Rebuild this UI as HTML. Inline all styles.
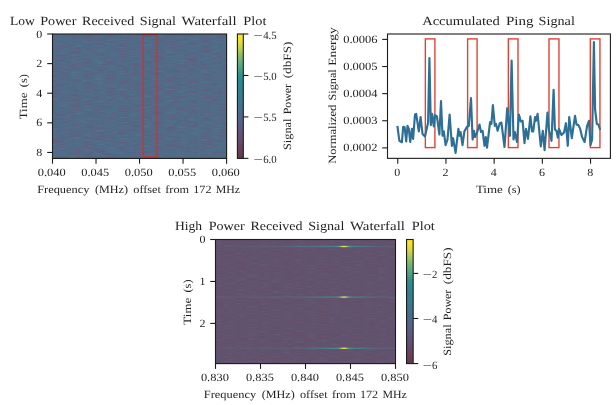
<!DOCTYPE html>
<html lang="en"><head><meta charset="utf-8"><title>Ping waterfall plots</title>
<style>html,body{margin:0;padding:0;background:#fff;}svg{display:block;}</style>
</head><body>
<svg width="616" height="405" viewBox="0 0 616 405" font-family='"Liberation Serif", "DejaVu Serif", serif' text-rendering="geometricPrecision">
<defs>
<linearGradient id="cb" x1="0" y1="0" x2="0" y2="1">
<stop offset="0" stop-color="#f9e526"/>
<stop offset="0.04" stop-color="#f3e12e"/>
<stop offset="0.085" stop-color="#d8d840"/>
<stop offset="0.125" stop-color="#b3cd56"/>
<stop offset="0.175" stop-color="#86bd6a"/>
<stop offset="0.22" stop-color="#6ab078"/>
<stop offset="0.265" stop-color="#55a581"/>
<stop offset="0.3" stop-color="#409a87"/>
<stop offset="0.33" stop-color="#30908a"/>
<stop offset="0.37" stop-color="#2a8a90"/>
<stop offset="0.43" stop-color="#2f8290"/>
<stop offset="0.5" stop-color="#357c90"/>
<stop offset="0.57" stop-color="#40738e"/>
<stop offset="0.63" stop-color="#4a6a8c"/>
<stop offset="0.7" stop-color="#54628a"/>
<stop offset="0.76" stop-color="#5e5880"/>
<stop offset="0.85" stop-color="#674c6e"/>
<stop offset="0.93" stop-color="#6a4059"/>
<stop offset="1" stop-color="#64384e"/>
</linearGradient>
<filter id="n1" x="0" y="0" width="100%" height="100%" color-interpolation-filters="sRGB"><feTurbulence type="fractalNoise" baseFrequency="0.06 1.0" numOctaves="3" seed="3" result="t"/><feTurbulence type="fractalNoise" baseFrequency="0.085 1.0" numOctaves="2" seed="13" result="u"/><feColorMatrix in="t" type="matrix" values="0 0 0 0 0.306  0 0 0 0 0.424  0 0 0 0 0.533  0 0 0 0 1" result="base"/><feColorMatrix in="t" type="matrix" values="0 0 0 0 0.431  0 0 0 0 0.322  0 0 0 0 0.455  1.7 0 0 0 -0.84" result="o1"/><feColorMatrix in="u" type="matrix" values="0 0 0 0 0.431  0 0 0 0 0.322  0 0 0 0 0.455  0 0 1.7 0 -0.84" result="o3"/><feColorMatrix in="u" type="matrix" values="0 0 0 0 0.361  0 0 0 0 0.498  0 0 0 0 0.612  0 1.2 0 0 -0.56" result="o2"/><feMerge><feMergeNode in="base"/><feMergeNode in="o2"/><feMergeNode in="o1"/><feMergeNode in="o3"/></feMerge></filter>
<filter id="n3" x="0" y="0" width="100%" height="100%" color-interpolation-filters="sRGB"><feTurbulence type="fractalNoise" baseFrequency="0.06 1.0" numOctaves="3" seed="7" result="t"/><feTurbulence type="fractalNoise" baseFrequency="0.085 1.0" numOctaves="2" seed="17" result="u"/><feColorMatrix in="t" type="matrix" values="0 0 0 0 0.376  0 0 0 0 0.318  0 0 0 0 0.424  0 0 0 0 1" result="base"/><feColorMatrix in="t" type="matrix" values="0 0 0 0 0.424  0 0 0 0 0.290  0 0 0 0 0.384  1.6 0 0 0 -0.88" result="o1"/><feColorMatrix in="u" type="matrix" values="0 0 0 0 0.424  0 0 0 0 0.290  0 0 0 0 0.384  0 0 1.6 0 -0.88" result="o3"/><feColorMatrix in="u" type="matrix" values="0 0 0 0 0.431  0 0 0 0 0.392  0 0 0 0 0.525  0 1.2 0 0 -0.54" result="o2"/><feMerge><feMergeNode in="base"/><feMergeNode in="o2"/><feMergeNode in="o1"/><feMergeNode in="o3"/></feMerge></filter>
<linearGradient id="ping1" x1="0" y1="0" x2="1" y2="0">
<stop offset="0" stop-color="#5a6f8a" stop-opacity="0.08"/>
<stop offset="0.35" stop-color="#52768b" stop-opacity="0.4"/>
<stop offset="0.5" stop-color="#4b7c8d" stop-opacity="0.8"/>
<stop offset="0.61" stop-color="#47818e" stop-opacity="0.9"/>
<stop offset="0.67" stop-color="#45838f" stop-opacity="1"/>
<stop offset="0.69" stop-color="#5fa085" stop-opacity="1"/>
<stop offset="0.701" stop-color="#c4d268" stop-opacity="1"/>
<stop offset="0.714" stop-color="#ece37c" stop-opacity="1"/>
<stop offset="0.727" stop-color="#c4d268" stop-opacity="1"/>
<stop offset="0.738" stop-color="#5fa085" stop-opacity="1"/>
<stop offset="0.76" stop-color="#45838f" stop-opacity="1"/>
<stop offset="0.83" stop-color="#4a7c8c" stop-opacity="0.8"/>
<stop offset="0.9" stop-color="#55728b" stop-opacity="0.55"/>
<stop offset="1" stop-color="#5a6f8a" stop-opacity="0.4"/>
</linearGradient>
<linearGradient id="ping2" x1="0" y1="0" x2="1" y2="0">
<stop offset="0" stop-color="#5a6f8a" stop-opacity="0.3"/>
<stop offset="0.35" stop-color="#52768b" stop-opacity="0.4"/>
<stop offset="0.5" stop-color="#4b7c8d" stop-opacity="0.55"/>
<stop offset="0.61" stop-color="#47818e" stop-opacity="0.9"/>
<stop offset="0.67" stop-color="#45838f" stop-opacity="1"/>
<stop offset="0.69" stop-color="#5fa085" stop-opacity="1"/>
<stop offset="0.701" stop-color="#c4d268" stop-opacity="1"/>
<stop offset="0.714" stop-color="#ece37c" stop-opacity="1"/>
<stop offset="0.727" stop-color="#c4d268" stop-opacity="1"/>
<stop offset="0.738" stop-color="#5fa085" stop-opacity="1"/>
<stop offset="0.76" stop-color="#45838f" stop-opacity="1"/>
<stop offset="0.83" stop-color="#4a7c8c" stop-opacity="0.8"/>
<stop offset="0.9" stop-color="#55728b" stop-opacity="0.55"/>
<stop offset="1" stop-color="#5a6f8a" stop-opacity="0.4"/>
</linearGradient>
<linearGradient id="ping3" x1="0" y1="0" x2="1" y2="0">
<stop offset="0" stop-color="#5a6f8a" stop-opacity="0.25"/>
<stop offset="0.35" stop-color="#52768b" stop-opacity="0.3"/>
<stop offset="0.5" stop-color="#4b7c8d" stop-opacity="0.45"/>
<stop offset="0.61" stop-color="#47818e" stop-opacity="0.9"/>
<stop offset="0.67" stop-color="#45838f" stop-opacity="1"/>
<stop offset="0.69" stop-color="#5fa085" stop-opacity="1"/>
<stop offset="0.701" stop-color="#c4d268" stop-opacity="1"/>
<stop offset="0.714" stop-color="#ece37c" stop-opacity="1"/>
<stop offset="0.727" stop-color="#c4d268" stop-opacity="1"/>
<stop offset="0.738" stop-color="#5fa085" stop-opacity="1"/>
<stop offset="0.76" stop-color="#45838f" stop-opacity="1"/>
<stop offset="0.83" stop-color="#4a7c8c" stop-opacity="0.8"/>
<stop offset="0.9" stop-color="#55728b" stop-opacity="0.55"/>
<stop offset="1" stop-color="#5a6f8a" stop-opacity="0.4"/>
</linearGradient>
<filter id="bl" x="-2%" y="-200%" width="104%" height="500%"><feGaussianBlur stdDeviation="0.6 0.45"/></filter>
</defs>
<rect width="616" height="405" fill="#fff"/>
<rect x="52.50" y="34.00" width="174.10" height="124.40" fill="#4f6a8c" filter="url(#n1)"/>
<rect x="143.10" y="34.70" width="14.00" height="122.20" fill="none" stroke="#c4363c" stroke-width="1.5"/>
<rect x="144.20" y="154.20" width="11.80" height="1.50" fill="#3f8a8c" opacity="0.35"/>
<rect x="52.50" y="34.00" width="174.10" height="124.40" fill="none" stroke="#1c1c1c" stroke-width="1.1"/>
<line x1="47.20" y1="34.00" x2="52.50" y2="34.00" stroke="#1c1c1c" stroke-width="1.1"/>
<text x="42.20" y="37.50" font-size="11.1" text-anchor="end" textLength="6.00" lengthAdjust="spacingAndGlyphs" fill="#1f1f1f">0</text>
<line x1="47.20" y1="63.61" x2="52.50" y2="63.61" stroke="#1c1c1c" stroke-width="1.1"/>
<text x="42.20" y="67.11" font-size="11.1" text-anchor="end" textLength="6.00" lengthAdjust="spacingAndGlyphs" fill="#1f1f1f">2</text>
<line x1="47.20" y1="93.22" x2="52.50" y2="93.22" stroke="#1c1c1c" stroke-width="1.1"/>
<text x="42.20" y="96.72" font-size="11.1" text-anchor="end" textLength="6.00" lengthAdjust="spacingAndGlyphs" fill="#1f1f1f">4</text>
<line x1="47.20" y1="122.83" x2="52.50" y2="122.83" stroke="#1c1c1c" stroke-width="1.1"/>
<text x="42.20" y="126.33" font-size="11.1" text-anchor="end" textLength="6.00" lengthAdjust="spacingAndGlyphs" fill="#1f1f1f">6</text>
<line x1="47.20" y1="152.44" x2="52.50" y2="152.44" stroke="#1c1c1c" stroke-width="1.1"/>
<text x="42.20" y="155.94" font-size="11.1" text-anchor="end" textLength="6.00" lengthAdjust="spacingAndGlyphs" fill="#1f1f1f">8</text>
<line x1="52.50" y1="158.40" x2="52.50" y2="163.70" stroke="#1c1c1c" stroke-width="1.1"/>
<text x="51.70" y="175.50" font-size="11.1" text-anchor="middle" textLength="28.00" lengthAdjust="spacingAndGlyphs" fill="#1f1f1f">0.040</text>
<line x1="96.02" y1="158.40" x2="96.02" y2="163.70" stroke="#1c1c1c" stroke-width="1.1"/>
<text x="95.22" y="175.50" font-size="11.1" text-anchor="middle" textLength="28.00" lengthAdjust="spacingAndGlyphs" fill="#1f1f1f">0.045</text>
<line x1="139.54" y1="158.40" x2="139.54" y2="163.70" stroke="#1c1c1c" stroke-width="1.1"/>
<text x="138.74" y="175.50" font-size="11.1" text-anchor="middle" textLength="28.00" lengthAdjust="spacingAndGlyphs" fill="#1f1f1f">0.050</text>
<line x1="183.06" y1="158.40" x2="183.06" y2="163.70" stroke="#1c1c1c" stroke-width="1.1"/>
<text x="182.26" y="175.50" font-size="11.1" text-anchor="middle" textLength="28.00" lengthAdjust="spacingAndGlyphs" fill="#1f1f1f">0.055</text>
<line x1="226.58" y1="158.40" x2="226.58" y2="163.70" stroke="#1c1c1c" stroke-width="1.1"/>
<text x="225.78" y="175.50" font-size="11.1" text-anchor="middle" textLength="28.00" lengthAdjust="spacingAndGlyphs" fill="#1f1f1f">0.060</text>
<text x="9.95" y="25.00" font-size="12.5" textLength="24.90" lengthAdjust="spacingAndGlyphs" fill="#1f1f1f">Low</text>
<text x="40.25" y="25.00" font-size="12.5" textLength="36.10" lengthAdjust="spacingAndGlyphs" fill="#1f1f1f">Power</text>
<text x="82.05" y="25.00" font-size="12.5" textLength="52.10" lengthAdjust="spacingAndGlyphs" fill="#1f1f1f">Received</text>
<text x="139.75" y="25.00" font-size="12.5" textLength="36.20" lengthAdjust="spacingAndGlyphs" fill="#1f1f1f">Signal</text>
<text x="181.55" y="25.00" font-size="12.5" textLength="55.00" lengthAdjust="spacingAndGlyphs" fill="#1f1f1f">Waterfall</text>
<text x="243.35" y="25.00" font-size="12.5" textLength="23.10" lengthAdjust="spacingAndGlyphs" fill="#1f1f1f">Plot</text>
<text x="37.15" y="192.50" font-size="11.1" textLength="52.30" lengthAdjust="spacingAndGlyphs" fill="#1f1f1f">Frequency</text>
<text x="95.05" y="192.50" font-size="11.1" textLength="33.00" lengthAdjust="spacingAndGlyphs" fill="#1f1f1f">(MHz)</text>
<text x="133.25" y="192.50" font-size="11.1" textLength="27.70" lengthAdjust="spacingAndGlyphs" fill="#1f1f1f">offset</text>
<text x="165.25" y="192.50" font-size="11.1" textLength="23.90" lengthAdjust="spacingAndGlyphs" fill="#1f1f1f">from</text>
<text x="193.25" y="192.50" font-size="11.1" textLength="18.20" lengthAdjust="spacingAndGlyphs" fill="#1f1f1f">172</text>
<text x="215.75" y="192.50" font-size="11.1" textLength="24.35" lengthAdjust="spacingAndGlyphs" fill="#1f1f1f">MHz</text>
<text x="0" y="0" font-size="11.1" textLength="26.95" lengthAdjust="spacingAndGlyphs" fill="#1f1f1f" transform="translate(27.10 119.35) rotate(-90)">Time</text>
<text x="0" y="0" font-size="11.1" textLength="13.20" lengthAdjust="spacingAndGlyphs" fill="#1f1f1f" transform="translate(27.10 87.25) rotate(-90)">(s)</text>
<rect x="237.40" y="34.00" width="5.90" height="124.40" fill="url(#cb)" stroke="#1c1c1c" stroke-width="1.1"/>
<line x1="243.30" y1="34.00" x2="248.40" y2="34.00" stroke="#1c1c1c" stroke-width="1.1"/>
<text x="253.55" y="38.50" font-size="11.1" textLength="9.30" lengthAdjust="spacingAndGlyphs" fill="#1f1f1f">−</text>
<text x="263.15" y="38.50" font-size="11.1" textLength="13.50" lengthAdjust="spacingAndGlyphs" fill="#1f1f1f">4.5</text>
<line x1="243.30" y1="75.45" x2="248.40" y2="75.45" stroke="#1c1c1c" stroke-width="1.1"/>
<text x="253.55" y="79.95" font-size="11.1" textLength="9.30" lengthAdjust="spacingAndGlyphs" fill="#1f1f1f">−</text>
<text x="263.15" y="79.95" font-size="11.1" textLength="13.50" lengthAdjust="spacingAndGlyphs" fill="#1f1f1f">5.0</text>
<line x1="243.30" y1="116.90" x2="248.40" y2="116.90" stroke="#1c1c1c" stroke-width="1.1"/>
<text x="253.55" y="121.40" font-size="11.1" textLength="9.30" lengthAdjust="spacingAndGlyphs" fill="#1f1f1f">−</text>
<text x="263.15" y="121.40" font-size="11.1" textLength="13.50" lengthAdjust="spacingAndGlyphs" fill="#1f1f1f">5.5</text>
<line x1="243.30" y1="158.35" x2="248.40" y2="158.35" stroke="#1c1c1c" stroke-width="1.1"/>
<text x="253.55" y="162.85" font-size="11.1" textLength="9.30" lengthAdjust="spacingAndGlyphs" fill="#1f1f1f">−</text>
<text x="263.15" y="162.85" font-size="11.1" textLength="13.50" lengthAdjust="spacingAndGlyphs" fill="#1f1f1f">6.0</text>
<text x="0" y="0" font-size="11.1" textLength="31.30" lengthAdjust="spacingAndGlyphs" fill="#1f1f1f" transform="translate(290.60 149.95) rotate(-90)">Signal</text>
<text x="0" y="0" font-size="11.1" textLength="30.40" lengthAdjust="spacingAndGlyphs" fill="#1f1f1f" transform="translate(290.60 114.35) rotate(-90)">Power</text>
<text x="0" y="0" font-size="11.1" textLength="36.75" lengthAdjust="spacingAndGlyphs" fill="#1f1f1f" transform="translate(290.60 78.35) rotate(-90)">(dbFS)</text>
<rect x="425.35" y="38.90" width="9.55" height="108.70" fill="none" stroke="#de4436" stroke-width="1.4"/>
<rect x="467.60" y="38.90" width="9.50" height="108.70" fill="none" stroke="#de4436" stroke-width="1.4"/>
<rect x="508.35" y="38.90" width="9.65" height="108.70" fill="none" stroke="#de4436" stroke-width="1.4"/>
<rect x="549.00" y="38.90" width="9.95" height="108.70" fill="none" stroke="#de4436" stroke-width="1.4"/>
<rect x="590.30" y="38.90" width="9.65" height="108.70" fill="none" stroke="#de4436" stroke-width="1.4"/>
<polyline fill="none" stroke="#2e6f95" stroke-width="2.15" stroke-linejoin="round" stroke-linecap="square" points="397.5,127.0 399.4,140.8 401.9,142.2 403.2,126.8 404.6,127.0 406.2,141.4 407.5,125.8 408.8,128.9 410.2,142.0 411.9,128.9 413.1,138.9 415.0,114.5 416.2,113.9 418.8,131.4 420.6,117.0 422.5,133.9 425.0,136.4 428.1,122.6 429.4,58.0 430.8,125.1 432.1,113.9 433.8,126.4 435.0,115.1 436.9,116.4 439.4,134.5 441.0,101.0 442.5,135.8 443.8,131.4 445.6,145.1 447.5,139.5 449.6,114.5 451.9,145.8 453.1,138.2 455.6,152.9 458.4,128.9 459.6,135.8 460.6,132.0 462.5,145.1 464.4,131.4 466.9,127.0 468.8,125.8 471.0,98.0 472.6,139.5 473.9,130.8 475.1,137.0 477.0,132.6 479.5,124.5 481.0,132.0 482.6,130.8 484.5,145.8 485.8,137.0 487.0,147.6 490.1,122.0 491.4,123.9 492.9,105.1 494.8,125.8 496.0,123.9 497.6,130.8 499.8,123.2 501.4,122.6 504.5,147.0 507.2,108.2 509.9,135.8 511.6,60.5 513.5,139.5 514.8,132.0 517.0,142.0 518.9,114.5 520.8,121.4 522.6,120.8 524.5,143.2 526.0,128.9 528.0,138.9 530.4,116.4 532.0,131.4 533.2,131.4 535.1,117.0 536.0,120.8 537.6,113.9 540.8,146.4 542.8,130.8 544.6,150.1 547.5,112.6 549.0,130.8 551.5,140.8 553.6,89.9 554.9,129.5 556.5,130.8 557.8,137.6 559.0,128.9 561.5,135.1 564.0,132.6 565.9,123.2 567.8,145.8 569.2,117.0 571.8,138.2 575.0,115.8 576.5,124.5 578.4,125.1 580.2,128.9 582.1,137.0 584.6,142.0 587.1,125.8 589.0,120.8 590.5,145.1 592.1,139.5 593.9,42.0 595.1,109.5 596.8,123.9 598.4,124.5 599.9,128.9"/>
<rect x="387.50" y="34.00" width="222.90" height="124.35" fill="none" stroke="#1c1c1c" stroke-width="1.1"/>
<line x1="382.20" y1="39.40" x2="387.50" y2="39.40" stroke="#1c1c1c" stroke-width="1.1"/>
<text x="377.60" y="43.00" font-size="11.1" text-anchor="end" textLength="34.40" lengthAdjust="spacingAndGlyphs" fill="#1f1f1f">0.0006</text>
<line x1="382.20" y1="66.52" x2="387.50" y2="66.52" stroke="#1c1c1c" stroke-width="1.1"/>
<text x="377.60" y="70.12" font-size="11.1" text-anchor="end" textLength="34.40" lengthAdjust="spacingAndGlyphs" fill="#1f1f1f">0.0005</text>
<line x1="382.20" y1="93.64" x2="387.50" y2="93.64" stroke="#1c1c1c" stroke-width="1.1"/>
<text x="377.60" y="97.24" font-size="11.1" text-anchor="end" textLength="34.40" lengthAdjust="spacingAndGlyphs" fill="#1f1f1f">0.0004</text>
<line x1="382.20" y1="120.76" x2="387.50" y2="120.76" stroke="#1c1c1c" stroke-width="1.1"/>
<text x="377.60" y="124.36" font-size="11.1" text-anchor="end" textLength="34.40" lengthAdjust="spacingAndGlyphs" fill="#1f1f1f">0.0003</text>
<line x1="382.20" y1="147.88" x2="387.50" y2="147.88" stroke="#1c1c1c" stroke-width="1.1"/>
<text x="377.60" y="151.48" font-size="11.1" text-anchor="end" textLength="34.40" lengthAdjust="spacingAndGlyphs" fill="#1f1f1f">0.0002</text>
<line x1="397.75" y1="158.35" x2="397.75" y2="163.65" stroke="#1c1c1c" stroke-width="1.1"/>
<text x="397.35" y="175.90" font-size="11.1" text-anchor="middle" textLength="6.00" lengthAdjust="spacingAndGlyphs" fill="#1f1f1f">0</text>
<line x1="445.95" y1="158.35" x2="445.95" y2="163.65" stroke="#1c1c1c" stroke-width="1.1"/>
<text x="445.55" y="175.90" font-size="11.1" text-anchor="middle" textLength="6.00" lengthAdjust="spacingAndGlyphs" fill="#1f1f1f">2</text>
<line x1="494.15" y1="158.35" x2="494.15" y2="163.65" stroke="#1c1c1c" stroke-width="1.1"/>
<text x="493.75" y="175.90" font-size="11.1" text-anchor="middle" textLength="6.00" lengthAdjust="spacingAndGlyphs" fill="#1f1f1f">4</text>
<line x1="542.35" y1="158.35" x2="542.35" y2="163.65" stroke="#1c1c1c" stroke-width="1.1"/>
<text x="541.95" y="175.90" font-size="11.1" text-anchor="middle" textLength="6.00" lengthAdjust="spacingAndGlyphs" fill="#1f1f1f">6</text>
<line x1="590.55" y1="158.35" x2="590.55" y2="163.65" stroke="#1c1c1c" stroke-width="1.1"/>
<text x="590.15" y="175.90" font-size="11.1" text-anchor="middle" textLength="6.00" lengthAdjust="spacingAndGlyphs" fill="#1f1f1f">8</text>
<text x="422.15" y="24.60" font-size="12.5" textLength="77.65" lengthAdjust="spacingAndGlyphs" fill="#1f1f1f">Accumulated</text>
<text x="505.95" y="24.60" font-size="12.5" textLength="27.50" lengthAdjust="spacingAndGlyphs" fill="#1f1f1f">Ping</text>
<text x="538.55" y="24.60" font-size="12.5" textLength="36.30" lengthAdjust="spacingAndGlyphs" fill="#1f1f1f">Signal</text>
<text x="475.90" y="192.50" font-size="11.1" textLength="26.95" lengthAdjust="spacingAndGlyphs" fill="#1f1f1f">Time</text>
<text x="507.75" y="192.50" font-size="11.1" textLength="12.85" lengthAdjust="spacingAndGlyphs" fill="#1f1f1f">(s)</text>
<text x="0" y="0" font-size="11.1" textLength="59.20" lengthAdjust="spacingAndGlyphs" fill="#1f1f1f" transform="translate(336.25 163.85) rotate(-90)">Normalized</text>
<text x="0" y="0" font-size="11.1" textLength="31.30" lengthAdjust="spacingAndGlyphs" fill="#1f1f1f" transform="translate(336.25 100.55) rotate(-90)">Signal</text>
<text x="0" y="0" font-size="11.1" textLength="38.70" lengthAdjust="spacingAndGlyphs" fill="#1f1f1f" transform="translate(336.25 65.85) rotate(-90)">Energy</text>
<rect x="215.50" y="239.50" width="180.00" height="124.10" fill="#5f4a6b" filter="url(#n3)"/>
<rect x="215.50" y="245.85" width="180.00" height="1.30" fill="url(#ping1)" filter="url(#bl)"/>
<rect x="215.50" y="296.45" width="180.00" height="1.30" fill="url(#ping2)" filter="url(#bl)"/>
<rect x="215.50" y="347.65" width="180.00" height="1.30" fill="url(#ping3)" filter="url(#bl)"/>
<rect x="215.50" y="239.50" width="180.00" height="124.10" fill="none" stroke="#1c1c1c" stroke-width="1.1"/>
<line x1="210.20" y1="239.50" x2="215.50" y2="239.50" stroke="#1c1c1c" stroke-width="1.1"/>
<text x="205.50" y="242.70" font-size="11.1" text-anchor="end" textLength="6.00" lengthAdjust="spacingAndGlyphs" fill="#1f1f1f">0</text>
<line x1="210.20" y1="281.45" x2="215.50" y2="281.45" stroke="#1c1c1c" stroke-width="1.1"/>
<text x="205.50" y="284.65" font-size="11.1" text-anchor="end" textLength="6.00" lengthAdjust="spacingAndGlyphs" fill="#1f1f1f">1</text>
<line x1="210.20" y1="323.40" x2="215.50" y2="323.40" stroke="#1c1c1c" stroke-width="1.1"/>
<text x="205.50" y="326.60" font-size="11.1" text-anchor="end" textLength="6.00" lengthAdjust="spacingAndGlyphs" fill="#1f1f1f">2</text>
<line x1="215.50" y1="363.60" x2="215.50" y2="368.90" stroke="#1c1c1c" stroke-width="1.1"/>
<text x="214.90" y="381.30" font-size="11.1" text-anchor="middle" textLength="28.00" lengthAdjust="spacingAndGlyphs" fill="#1f1f1f">0.830</text>
<line x1="260.50" y1="363.60" x2="260.50" y2="368.90" stroke="#1c1c1c" stroke-width="1.1"/>
<text x="259.90" y="381.30" font-size="11.1" text-anchor="middle" textLength="28.00" lengthAdjust="spacingAndGlyphs" fill="#1f1f1f">0.835</text>
<line x1="305.50" y1="363.60" x2="305.50" y2="368.90" stroke="#1c1c1c" stroke-width="1.1"/>
<text x="304.90" y="381.30" font-size="11.1" text-anchor="middle" textLength="28.00" lengthAdjust="spacingAndGlyphs" fill="#1f1f1f">0.840</text>
<line x1="350.50" y1="363.60" x2="350.50" y2="368.90" stroke="#1c1c1c" stroke-width="1.1"/>
<text x="349.90" y="381.30" font-size="11.1" text-anchor="middle" textLength="28.00" lengthAdjust="spacingAndGlyphs" fill="#1f1f1f">0.845</text>
<line x1="395.50" y1="363.60" x2="395.50" y2="368.90" stroke="#1c1c1c" stroke-width="1.1"/>
<text x="394.90" y="381.30" font-size="11.1" text-anchor="middle" textLength="28.00" lengthAdjust="spacingAndGlyphs" fill="#1f1f1f">0.850</text>
<text x="174.95" y="230.00" font-size="12.5" textLength="27.20" lengthAdjust="spacingAndGlyphs" fill="#1f1f1f">High</text>
<text x="208.65" y="230.00" font-size="12.5" textLength="36.10" lengthAdjust="spacingAndGlyphs" fill="#1f1f1f">Power</text>
<text x="250.45" y="230.00" font-size="12.5" textLength="52.10" lengthAdjust="spacingAndGlyphs" fill="#1f1f1f">Received</text>
<text x="308.15" y="230.00" font-size="12.5" textLength="36.20" lengthAdjust="spacingAndGlyphs" fill="#1f1f1f">Signal</text>
<text x="349.95" y="230.00" font-size="12.5" textLength="55.00" lengthAdjust="spacingAndGlyphs" fill="#1f1f1f">Waterfall</text>
<text x="411.75" y="230.00" font-size="12.5" textLength="23.10" lengthAdjust="spacingAndGlyphs" fill="#1f1f1f">Plot</text>
<text x="203.85" y="398.10" font-size="11.1" textLength="52.30" lengthAdjust="spacingAndGlyphs" fill="#1f1f1f">Frequency</text>
<text x="261.75" y="398.10" font-size="11.1" textLength="33.00" lengthAdjust="spacingAndGlyphs" fill="#1f1f1f">(MHz)</text>
<text x="299.95" y="398.10" font-size="11.1" textLength="27.70" lengthAdjust="spacingAndGlyphs" fill="#1f1f1f">offset</text>
<text x="331.95" y="398.10" font-size="11.1" textLength="23.90" lengthAdjust="spacingAndGlyphs" fill="#1f1f1f">from</text>
<text x="359.95" y="398.10" font-size="11.1" textLength="18.20" lengthAdjust="spacingAndGlyphs" fill="#1f1f1f">172</text>
<text x="382.45" y="398.10" font-size="11.1" textLength="24.35" lengthAdjust="spacingAndGlyphs" fill="#1f1f1f">MHz</text>
<text x="0" y="0" font-size="11.1" textLength="26.95" lengthAdjust="spacingAndGlyphs" fill="#1f1f1f" transform="translate(190.60 324.70) rotate(-90)">Time</text>
<text x="0" y="0" font-size="11.1" textLength="13.20" lengthAdjust="spacingAndGlyphs" fill="#1f1f1f" transform="translate(190.60 292.60) rotate(-90)">(s)</text>
<rect x="406.55" y="239.50" width="6.60" height="124.10" fill="url(#cb)" stroke="#1c1c1c" stroke-width="1.1"/>
<line x1="413.15" y1="273.40" x2="418.25" y2="273.40" stroke="#1c1c1c" stroke-width="1.1"/>
<text x="422.85" y="278.40" font-size="11.1" textLength="9.30" lengthAdjust="spacingAndGlyphs" fill="#1f1f1f">−</text>
<text x="432.05" y="278.40" font-size="11.1" textLength="5.40" lengthAdjust="spacingAndGlyphs" fill="#1f1f1f">2</text>
<line x1="413.15" y1="318.48" x2="418.25" y2="318.48" stroke="#1c1c1c" stroke-width="1.1"/>
<text x="422.85" y="323.48" font-size="11.1" textLength="9.30" lengthAdjust="spacingAndGlyphs" fill="#1f1f1f">−</text>
<text x="432.05" y="323.48" font-size="11.1" textLength="5.40" lengthAdjust="spacingAndGlyphs" fill="#1f1f1f">4</text>
<line x1="413.15" y1="363.56" x2="418.25" y2="363.56" stroke="#1c1c1c" stroke-width="1.1"/>
<text x="422.85" y="368.56" font-size="11.1" textLength="9.30" lengthAdjust="spacingAndGlyphs" fill="#1f1f1f">−</text>
<text x="432.05" y="368.56" font-size="11.1" textLength="5.40" lengthAdjust="spacingAndGlyphs" fill="#1f1f1f">6</text>
<text x="0" y="0" font-size="11.1" textLength="31.30" lengthAdjust="spacingAndGlyphs" fill="#1f1f1f" transform="translate(451.25 355.75) rotate(-90)">Signal</text>
<text x="0" y="0" font-size="11.1" textLength="30.40" lengthAdjust="spacingAndGlyphs" fill="#1f1f1f" transform="translate(451.25 320.15) rotate(-90)">Power</text>
<text x="0" y="0" font-size="11.1" textLength="36.75" lengthAdjust="spacingAndGlyphs" fill="#1f1f1f" transform="translate(451.25 284.15) rotate(-90)">(dbFS)</text>
</svg>
</body></html>
